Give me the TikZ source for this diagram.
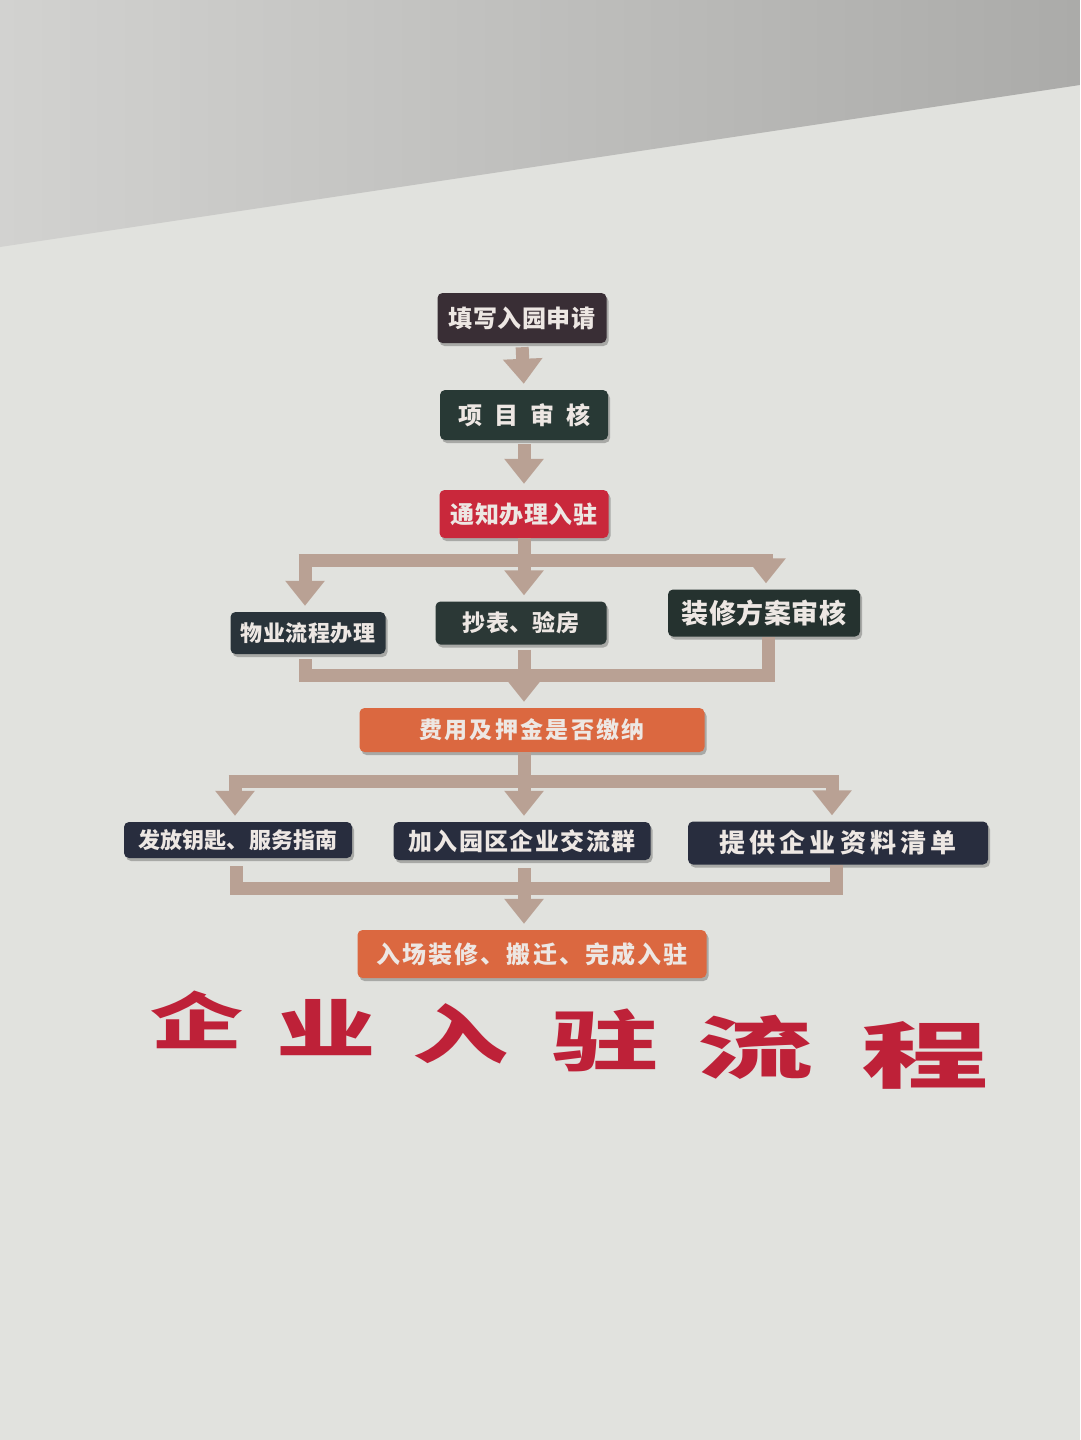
\documentclass[tikz,border=0pt]{standalone}
\usepackage{fontspec}
\newfontfamily\cjk{Noto Sans CJK SC}
\usetikzlibrary{arrows.meta,shadows}
\definecolor{wall}{HTML}{E1E2DE}
\definecolor{ceilL}{HTML}{D2D2D0}
\definecolor{ceilR}{HTML}{ABABA9}
\definecolor{tan}{HTML}{B9A194}
\definecolor{boxA}{HTML}{392E35}
\definecolor{boxB}{HTML}{283935}
\definecolor{boxR}{HTML}{C9283B}
\definecolor{boxC}{HTML}{29333A}
\definecolor{boxD}{HTML}{2B3836}
\definecolor{boxE}{HTML}{25322F}
\definecolor{boxO}{HTML}{DB6840}
\definecolor{boxN}{HTML}{282D3E}
\definecolor{txt}{HTML}{EDE7E3}
\definecolor{title}{HTML}{BE2138}
\newcommand{\cardfont}[2]{\cjk\bfseries\fontsize{#1}{#1}\selectfont\addfontfeatures{LetterSpace=#2}}
\begin{document}
\begin{tikzpicture}[x=1pt,y=-1pt,
  card/.style={rounded corners=5pt, inner sep=0pt, text=txt,
    align=center,
    drop shadow={shadow xshift=2pt, shadow yshift=-3pt, opacity=.25, fill=black}},
  conn/.style={draw=tan, line width=13pt, line join=miter},
  arr/.style={conn, -{Triangle[width=38pt,length=25pt]}, shorten >=6pt},
  ttl/.style={text=title, inner sep=0pt}]
\useasboundingbox (0,0) rectangle (1080,1440);
% background
\fill[wall] (0,0) rectangle (1080,1440);
\shade[left color=ceilL, right color=ceilR] (0,0) -- (1080,0) -- (1080,85) -- (0,247) -- cycle;
% cards
\node[card, fill=boxA, minimum width=169pt, minimum height=50pt, font=\cardfont{24}{2}] (n1) at (522,318) {填写入园申请};
\node[card, fill=boxB, minimum width=168pt, minimum height=50pt, font=\cardfont{24}{0}] (n2) at (524,415) {项\hspace{12pt}目\hspace{12pt}审\hspace{12pt}核};
\node[card, fill=boxR, minimum width=169pt, minimum height=48pt, font=\cardfont{24}{2}] (n3) at (524,514) {通知办理入驻};
\node[card, fill=boxC, minimum width=155pt, minimum height=42pt, font=\cardfont{22}{2}] (n4) at (308,633) {物业流程办理};
\node[card, fill=boxD, minimum width=171pt, minimum height=43pt, font=\cardfont{23}{2}] (n5) at (521,623) {抄表、验房};
\node[card, fill=boxE, minimum width=192pt, minimum height=47pt, font=\cardfont{27}{2}] (n6) at (764,613) {装修方案审核};
\node[card, fill=boxO, minimum width=345pt, minimum height=44pt, font=\cardfont{23}{10}] (n7) at (532,730) {费用及押金是否缴纳};
\node[card, fill=boxN, minimum width=228pt, minimum height=36pt, font=\cardfont{22}{1}] (n8) at (238,840) {发放钥匙、服务指南};
\node[card, fill=boxN, minimum width=257pt, minimum height=38pt, font=\cardfont{24}{6}] (n9) at (522,841) {加入园区企业交流群};
\node[card, fill=boxN, minimum width=300pt, minimum height=43pt, font=\cardfont{26}{16}] (n10) at (838,843) {提供企业资料清单};
\node[card, fill=boxO, minimum width=349pt, minimum height=48pt, font=\cardfont{24}{9}] (n11) at (532,954) {入场装修、搬迁、完成入驻};
% connectors
\draw[arr, shorten <=4pt] (n1.south) -- (n2.north);
\draw[arr, shorten <=4pt] (n2.south) -- (n3.north);
% branch 1
\coordinate (b1) at (524,560);
\coordinate (b1L) at (305,560);
\coordinate (b1R) at (766,560);
\draw[conn] (n3.south) -- (b1);
\draw[conn] ([xshift=-6.5pt]b1L) -- ([xshift=6.5pt]b1R);
\draw[arr] ([yshift=-6.5pt]b1L) -- (b1L |- n4.north);
\draw[arr] (b1) -- (b1 |- n5.north);
\draw[arr] ([yshift=-6.5pt]b1R) -- (b1R |- n6.north);
% merge 1
\coordinate (m1L) at (305,675);
\coordinate (m1R) at (768,675);
\draw[conn, shorten <=5pt] (m1L |- n4.south) -- (m1L) -- (m1R) -- (m1R |- n6.south);
\draw[arr, shorten <=5pt] (n5.south -| b1) -- (b1 |- n7.north);
% branch 2
\coordinate (b2) at (524,781);
\coordinate (b2L) at (235,781);
\coordinate (b2R) at (832,781);
\draw[conn] (n7.south -| b2) -- (b2);
\draw[conn] ([xshift=-6.5pt]b2L) -- ([xshift=6.5pt]b2R);
\draw[arr] ([yshift=-6.5pt]b2L) -- (b2L |- n8.north);
\draw[arr] (b2) -- (b2 |- n9.north);
\draw[arr] ([yshift=-6.5pt]b2R) -- (b2R |- n10.north);
% merge 2
\coordinate (m2L) at (236,888);
\coordinate (m2R) at (836,888);
\draw[conn, shorten <=8pt] (m2L |- n8.south) -- (m2L) -- (m2R) -- (m2R |- n10.south);
\draw[arr, shorten <=8pt] (n9.south -| b2) -- (b2 |- n11.north);
% title
\node[ttl, font=\cjk\bfseries\fontsize{62}{62}\selectfont, xscale=1.5] (t1) at (197,1020) {企};
\node[ttl, font=\cjk\bfseries\fontsize{63}{63}\selectfont, xscale=1.58] (t2) at (326,1028) {业};
\node[ttl, font=\cjk\bfseries\fontsize{64}{64}\selectfont, xscale=1.5] (t3) at (460,1034) {入};
\node[ttl, font=\cjk\bfseries\fontsize{66}{66}\selectfont, xscale=1.62] (t4) at (605,1040) {驻};
\node[ttl, font=\cjk\bfseries\fontsize{68}{68}\selectfont, xscale=1.7] (t5) at (755,1047) {流};
\node[ttl, font=\cjk\bfseries\fontsize{72}{72}\selectfont, xscale=1.77] (t6) at (925,1055) {程};
\end{tikzpicture}
\end{document}
